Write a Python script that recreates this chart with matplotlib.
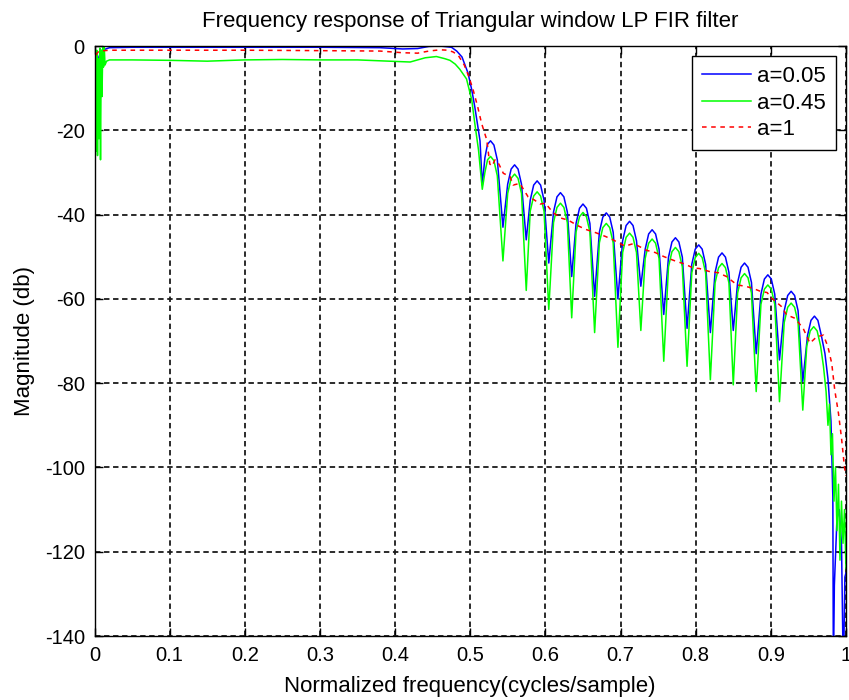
import matplotlib
matplotlib.use("Agg")
import matplotlib.pyplot as plt

plt.rcParams['font.family'] = ['Liberation Sans', 'DejaVu Sans']
plt.rcParams['axes.unicode_minus'] = False

title = "Frequency response of Triangular window LP FIR filter"
xlabel = "Normalized frequency(cycles/sample)"
ylabel = "Magnitude (db)"
labels = ["a=0.05", "a=0.45", "a=1"]
xticks = [0, 0.1, 0.2, 0.3, 0.4, 0.5, 0.6, 0.7, 0.8, 0.9, 1]
xticklabels = ["0", "0.1", "0.2", "0.3", "0.4", "0.5", "0.6", "0.7", "0.8", "0.9", "1"]
yticks = [0, -20, -40, -60, -80, -100, -120, -140]

# ---- a = 0.05 (blue) ----
blue_f = [0.0, 0.0005, 0.002, 0.004, 0.006, 0.01, 0.02, 0.05, 0.1, 0.2, 0.3, 0.38, 0.41, 0.43, 0.445, 0.46,
          0.475, 0.482, 0.489, 0.497, 0.502, 0.506, 0.510, 0.513, 0.516,
          0.5195, 0.523, 0.527, 0.5315, 0.536, 0.5435,
          0.5498, 0.5544, 0.559, 0.5636, 0.5682, 0.5745,
          0.5798, 0.5844, 0.589, 0.5936, 0.5982, 0.6045,
          0.6108, 0.6154, 0.620, 0.6246, 0.6292, 0.635,
          0.6408, 0.6454, 0.650, 0.6546, 0.6592, 0.6655,
          0.6718, 0.6764, 0.681, 0.6856, 0.6902, 0.6965,
          0.7028, 0.7074, 0.712, 0.7166, 0.7212, 0.727,
          0.7328, 0.7374, 0.742, 0.7466, 0.7512, 0.7575,
          0.7638, 0.7684, 0.773, 0.7776, 0.7822, 0.7885,
          0.7948, 0.7994, 0.804, 0.8086, 0.8132, 0.8195,
          0.8258, 0.8304, 0.835, 0.8396, 0.8442, 0.850,
          0.8558, 0.8604, 0.865, 0.8696, 0.8742, 0.8805,
          0.8868, 0.8914, 0.896, 0.9006, 0.9052, 0.9115,
          0.9178, 0.9224, 0.927, 0.9316, 0.9362, 0.9425,
          0.9488, 0.9534, 0.958, 0.9626, 0.9672, 0.972, 0.976, 0.980, 0.9825, 0.9832,
          0.9845, 0.988, 0.991, 0.994, 0.9965, 0.9985, 1.0]
blue_db = [-65, -30, -9, -5, -2.5, -1.0, -0.4, -0.3, -0.3, -0.3, -0.3, -0.4, -0.7, -0.6, -0.1, 0.0,
           -0.3, -1.2, -2.6, -6.4, -10.4, -14.4, -19, -22.5, -33,
           -26.5, -23.3, -22.5, -23.5, -27, -43,
           -32.8, -29.2, -28.2, -29.2, -32.8, -46,
           -36.6, -33, -32, -33, -36.6, -51.5,
           -39.4, -35.8, -34.8, -35.8, -39.4, -54.7,
           -42.1, -38.5, -37.5, -38.5, -42.1, -59.4,
           -44.2, -40.6, -39.6, -40.6, -44.2, -60,
           -46.2, -42.6, -41.6, -42.6, -46.2, -57,
           -48.2, -44.6, -43.6, -44.6, -48.2, -63.7,
           -50.1, -46.5, -45.5, -46.5, -50.1, -67,
           -51.8, -48.2, -47.2, -48.2, -51.8, -68,
           -53.7, -50.1, -49.1, -50.1, -53.7, -67.5,
           -56.1, -52.5, -51.5, -52.5, -56.1, -73,
           -58.9, -55.3, -54.3, -55.3, -58.9, -74.5,
           -62.8, -59.2, -58.2, -59.2, -62.8, -79.6,
           -68.7, -65.1, -64.1, -65.1, -68.7, -73, -79, -89, -107, -150,
           -128, -112, -110, -118, -150, -126, -125]

# ---- a = 0.45 (green) ----
green_f = [0.0, 0.001, 0.002, 0.003, 0.004, 0.005, 0.006, 0.007, 0.008, 0.009, 0.010, 0.011, 0.012, 0.013,
           0.014, 0.016, 0.02, 0.05, 0.1, 0.15, 0.2, 0.25, 0.3, 0.35, 0.39, 0.42, 0.44, 0.455, 0.466,
           0.473, 0.480, 0.486, 0.495, 0.502, 0.506, 0.511, 0.516,
           0.5195, 0.523, 0.527, 0.5315, 0.536, 0.5435,
           0.5498, 0.5544, 0.559, 0.5636, 0.5682, 0.5745,
           0.5798, 0.5844, 0.589, 0.5936, 0.5982, 0.6045,
           0.6108, 0.6154, 0.620, 0.6246, 0.6292, 0.635,
           0.6408, 0.6454, 0.650, 0.6546, 0.6592, 0.6655,
           0.6718, 0.6764, 0.681, 0.6856, 0.6902, 0.6965,
           0.7028, 0.7074, 0.712, 0.7166, 0.7212, 0.727,
           0.7328, 0.7374, 0.742, 0.7466, 0.7512, 0.7575,
           0.7638, 0.7684, 0.773, 0.7776, 0.7822, 0.7885,
           0.7948, 0.7994, 0.804, 0.8086, 0.8132, 0.8195,
           0.8258, 0.8304, 0.835, 0.8396, 0.8442, 0.850,
           0.8558, 0.8604, 0.865, 0.8696, 0.8742, 0.8805,
           0.8868, 0.8914, 0.896, 0.9006, 0.9052, 0.9115,
           0.9178, 0.9224, 0.927, 0.9316, 0.9362, 0.9425,
           0.9478, 0.9524, 0.957, 0.9616, 0.9662, 0.970, 0.9735, 0.976, 0.978, 0.980, 0.982,
           0.984, 0.986, 0.988, 0.990, 0.992, 0.994, 0.996, 0.998, 1.0]
green_db = [-27, -2, -25, -1, -26, -3, -22, -0.5, -27, -1, -12, -0.3, -5, -0.3,
            -4.5, -3.6, -3.3, -3.3, -3.4, -3.6, -3.3, -3.2, -3.3, -3.3, -3.6, -3.8, -2.8, -2.5, -3.0,
            -3.4, -4.3, -5.5, -7.8, -12.8, -18.3, -24.7, -34,
            -30, -27, -26.2, -27.2, -30.8, -51,
            -35, -31.4, -30.4, -31.4, -35, -58,
            -39.2, -35.6, -34.6, -35.6, -39.2, -62.5,
            -41.9, -38.3, -37.3, -38.3, -41.9, -64.5,
            -44.1, -40.5, -39.5, -40.5, -44.1, -68,
            -46.7, -43.1, -42.1, -43.1, -46.7, -71.5,
            -49, -45.4, -44.4, -45.4, -49, -67.5,
            -50.4, -46.8, -45.8, -46.8, -50.4, -74.8,
            -52.4, -48.8, -47.8, -48.8, -52.4, -76,
            -53.8, -50.2, -49.2, -50.2, -53.8, -79.2,
            -56.2, -52.6, -51.6, -52.6, -56.2, -80.4,
            -58.6, -55, -54, -55, -58.6, -82,
            -61.3, -57.7, -56.7, -57.7, -61.3, -84.4,
            -65.6, -62, -61, -62, -65.6, -86.4,
            -71.2, -67.6, -66.6, -67.6, -71.2, -76, -82, -90, -85, -97, -92,
            -108, -100, -115, -104, -122, -108, -118, -110, -124]

# ---- a = 1 (red, dashed) ----
red_f = [0.0, 0.001, 0.003, 0.006, 0.02, 0.1, 0.2, 0.3, 0.38, 0.41, 0.43, 0.445, 0.46, 0.47,
         0.477, 0.484, 0.492, 0.498, 0.504, 0.510, 0.515, 0.522, 0.526, 0.529, 0.533, 0.538,
         0.544, 0.553, 0.557, 0.566, 0.577, 0.585, 0.593, 0.600, 0.610, 0.620, 0.630, 0.645,
         0.655, 0.667, 0.680, 0.690, 0.706, 0.715, 0.721, 0.735, 0.746, 0.758, 0.774, 0.785,
         0.797, 0.805, 0.818, 0.830, 0.841, 0.855, 0.866, 0.876, 0.886, 0.895, 0.901, 0.914,
         0.921, 0.932, 0.943, 0.952, 0.961, 0.970, 0.976, 0.981, 0.985, 0.990, 0.994, 0.998, 1.0]
red_db = [-6.5, -3, -1.8, -1.2, -1.0, -1.0, -1.0, -1.1, -1.2, -1.6, -1.7, -1.2, -0.9, -1.0,
          -1.4, -2.2, -4.5, -7.2, -10.5, -14.5, -18.3, -22.3, -28, -28.5, -27, -28,
          -30.2, -31, -33, -32.6, -35.8, -36.5, -37.5, -37.3, -39.5, -40.8, -41.3, -42.8,
          -43.6, -44.3, -45.2, -46, -47.5, -47, -47.2, -48.5, -49, -50, -51.1, -51.7,
          -52.7, -52.8, -53.5, -53.8, -54.7, -56.7, -57, -57.5, -58.2, -58.5, -59.8, -61.8,
          -63.8, -64.6, -67, -70.5, -69, -68.6, -71.4, -75.3, -81.6, -87.2, -93, -100, -102]

W, H = 849, 700
fig = plt.figure(figsize=(W / 100, H / 100), dpi=100)
ax = fig.add_axes([94.5 / W, 1 - 636 / H, (846 - 94.5) / W, (636 - 46) / H])

ax.plot(blue_f, blue_db, color='#0000ff', lw=1.1, label=labels[0])
ax.plot(green_f, green_db, color='#00ff00', lw=1.1, label=labels[1])
ax.plot(red_f, red_db, color='#ff0000', lw=1.1, ls=(0, (3, 3)), label=labels[2])

ax.set_xlim(0, 1)
ax.set_ylim(-140, 0)
ax.set_xticks(xticks)
ax.set_xticklabels(xticklabels)
ax.set_yticks(yticks)
ax.grid(True, color='0.1', lw=1.3, ls=(0, (3, 2)))
ax.tick_params(direction='in', length=6, top=True, right=True, labelsize=14.5, width=1, pad=7)
for s in ax.spines.values():
    s.set_linewidth(1.0)
    s.set_color('k')

ax.set_title(title, fontsize=16, pad=14)
ax.set_xlabel(xlabel, fontsize=16, labelpad=8)
ax.set_ylabel(ylabel, fontsize=16, labelpad=7)

leg = ax.legend(loc='upper right', fontsize=16, frameon=True, fancybox=False, framealpha=1,
                edgecolor='k', borderaxespad=0.45, handlelength=2.2, handletextpad=0.3,
                labelspacing=0.25, borderpad=0.45)
leg.get_frame().set_linewidth(1.0)

fig.savefig("out.png", dpi=100)
